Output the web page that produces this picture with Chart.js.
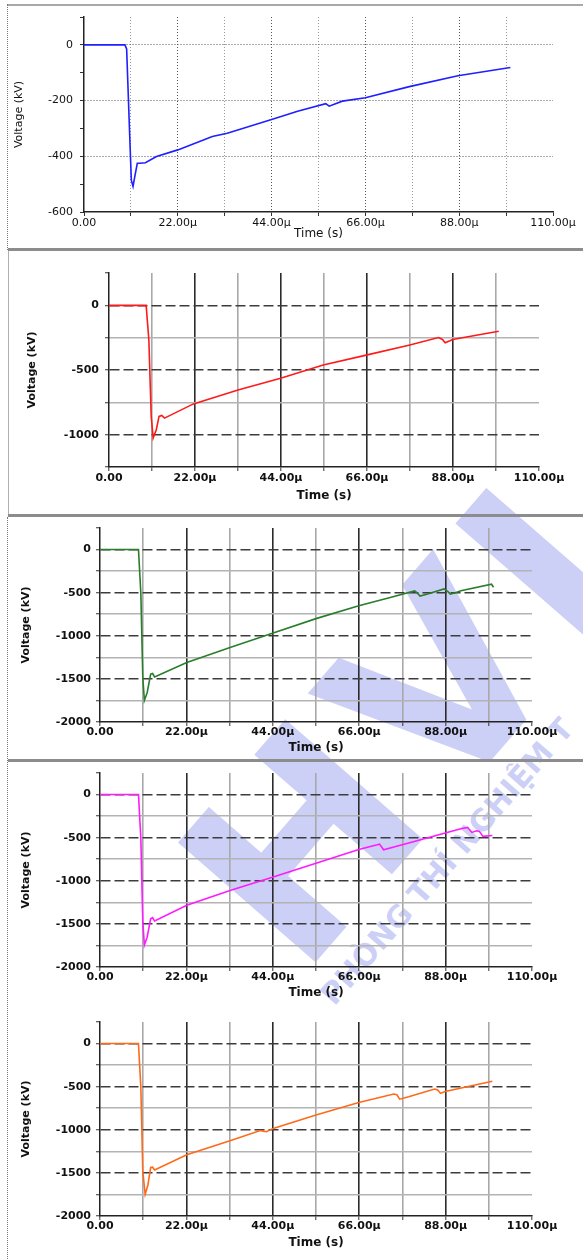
<!DOCTYPE html>
<html>
<head>
<meta charset="utf-8">
<script src="https://cdn.jsdelivr.net/npm/chart.js@4/dist/chart.umd.min.js"></script>
<style>
html,body{margin:0;padding:0;background:#fff;}
body{position:relative;width:583px;height:1259px;overflow:hidden;}
.panel{position:absolute;left:0;width:583px;z-index:2;}
.panel canvas{position:absolute;left:0;top:0;}
.line{position:absolute;z-index:3;}
.wm{position:absolute;z-index:1;color:rgba(120,128,232,0.38);font-family:"DejaVu Sans",sans-serif;font-weight:bold;white-space:nowrap;transform-origin:0 100%;line-height:1;}
</style>
</head>
<body>
<div class="wm" style="left:330px;top:755px;font-size:250px;letter-spacing:10px;transform:rotate(-49deg);">HVL</div>
<div class="wm" style="left:338px;top:980px;font-size:30px;transform:rotate(-49deg);">PHÒNG THÍ NGHIỆM T</div>

<div class="line" style="left:8px;top:4px;width:575px;height:2px;background:#a8a8a8"></div>
<div class="line" style="left:7px;top:4px;width:0;height:246px;border-left:1px dotted #777"></div>
<div class="line" style="left:8px;top:248px;width:575px;height:3px;background:#8c8c8c"></div>
<div class="line" style="left:8px;top:251px;width:1px;height:264px;background:#b0b0b0"></div>
<div class="line" style="left:8px;top:514px;width:575px;height:3px;background:#8c8c8c"></div>
<div class="line" style="left:7px;top:517px;width:0;height:742px;border-left:1px dotted #777"></div>
<div class="line" style="left:8px;top:759px;width:575px;height:3px;background:#8c8c8c"></div>

<script>
// ---- data (time in microseconds, voltage in kV) ----
const xTickLabels = ['0.00', '22.00µ', '44.00µ', '66.00µ', '88.00µ', '110.00µ'];
const xTitle = 'Time (s)';
const yTitle = 'Voltage (kV)';

const t1 = [0, 9.6, 10.0, 10.7, 11.1, 11.5, 11.9, 12.5, 13.1, 14.4, 17, 22, 30.1, 33.6, 44, 50.1, 56.7, 57.5, 60.6, 66, 76.3, 87.7, 100];
const v1 = [0, 0, -15, -317, -486, -508, -474, -425, -425, -423, -401, -377, -329, -317, -268, -238, -211, -220, -202, -190, -150, -111, -81];

const t2 = [0, 9.5, 10.2, 10.8, 11.3, 12.1, 12.8, 13.5, 14.2, 21.6, 33, 43.9, 54.8, 65.8, 76.7, 84.3, 85.3, 86, 87.2, 87.9, 99.7];
const v2 = [0, 0, -269, -859, -1026, -962, -859, -851, -872, -762, -654, -564, -462, -385, -308, -249, -264, -290, -274, -264, -200];

const t3 = [0, 9.8, 10.4, 10.9, 11.3, 12.0, 12.9, 13.4, 13.9, 22.1, 33.3, 44.1, 55, 65.9, 73.9, 80.1, 80.7, 81.5, 83.4, 87.6, 88.6, 89.2, 90.5, 91.9, 99.7, 100.2];
const v3 = [0, 0, -508, -1484, -1750, -1660, -1445, -1438, -1477, -1309, -1133, -969, -801, -652, -555, -480, -500, -539, -516, -457, -488, -516, -500, -477, -402, -437];

const t4 = [0, 9.8, 10.4, 10.9, 11.3, 12.0, 12.9, 13.4, 13.9, 22.1, 33.3, 44.1, 55, 65.9, 70.6, 71.2, 72.2, 78.6, 87.9, 91.9, 93.6, 94.7, 95.9, 96.6, 97.5, 99.9];
const v4 = [0, 0, -508, -1480, -1745, -1655, -1440, -1428, -1467, -1285, -1110, -955, -797, -638, -583, -575, -641, -563, -447, -396, -381, -439, -420, -427, -485, -474];

const t5 = [0, 9.8, 10.4, 10.9, 11.5, 12.2, 12.9, 13.4, 13.9, 22.1, 33.3, 40.8, 41.5, 42.4, 44.1, 55, 65.9, 74.8, 75.6, 76.3, 78.6, 85.2, 86, 86.7, 87.9, 99.9];
const v5 = [0, 0, -508, -1484, -1750, -1640, -1437, -1434, -1465, -1289, -1125, -1008, -1016, -1023, -984, -828, -684, -586, -594, -645, -617, -527, -539, -578, -555, -437];

const yRanges = [[-600, 100], [-1250, 250], [-2000, 250], [-2000, 250], [-2000, 250]];
const yMajorSteps = [200, 500, 500, 500, 500];
const yMinorSteps = [100, 250, 250, 250, 250];

// ---- layout / styles ----
const panels = [
  {t: t1, v: v1, color: '#1f1fff', top: 0,    h: 250, left: 84,  right: 553, ptop: 17, pbot: 212, style: 'dotted', yTitlePad: 13, xTitlePad: 9,  yTickPad: 7, xTickPad: 1},
  {t: t2, v: v2, color: '#ff1a1a', top: 250,  h: 262, left: 109, right: 539, ptop: 23, pbot: 217, style: 'grid', yTitlePad: 26, xTitlePad: 9,  yTickPad: 6, xTickPad: 1},
  {t: t3, v: v3, color: '#2a7d2a', top: 512,  h: 248, left: 100, right: 532, ptop: 16, pbot: 210, style: 'grid', yTitlePad: 20, xTitlePad: 5,  yTickPad: 5, xTickPad: 0},
  {t: t4, v: v4, color: '#ff1aff', top: 760,  h: 245, left: 100, right: 532, ptop: 13, pbot: 207, style: 'grid', yTitlePad: 20, xTitlePad: 5,  yTickPad: 5, xTickPad: 0},
  {t: t5, v: v5, color: '#ff6a1a', top: 1005, h: 254, left: 100, right: 532, ptop: 17, pbot: 211, style: 'grid', yTitlePad: 20, xTitlePad: 9,  yTickPad: 5, xTickPad: 0}
];

Chart.defaults.font.family = '"DejaVu Sans", "Liberation Sans", sans-serif';

function isMult(v, m) { return Math.abs(v / m - Math.round(v / m)) < 1e-9; }

panels.forEach((p, idx) => {
  const wrap = document.createElement('div');
  wrap.className = 'panel';
  wrap.style.top = p.top + 'px';
  wrap.style.height = p.h + 'px';
  const cv = document.createElement('canvas');
  cv.width = 583; cv.height = p.h;
  wrap.appendChild(cv);
  document.body.appendChild(wrap);

  const [yMin, yMax] = yRanges[idx];
  const yMajor = yMajorSteps[idx], yMinor = yMinorSteps[idx];
  const dotted = p.style === 'dotted';
  const bold = dotted ? 'normal' : 'bold';
  const tickFont = {size: 11, weight: bold, family: '"DejaVu Sans", sans-serif'};
  const titleFont = {size: 12, weight: bold, family: '"DejaVu Sans", sans-serif'};

  const scales = {
    x: {
      type: 'linear', min: 0, max: 110,
      afterFit: s => { s.height = p.h - p.pbot; },
      ticks: {
        stepSize: 11, autoSkip: false, maxRotation: 0, padding: p.xTickPad,
        color: '#111', font: tickFont,
        callback: v => isMult(v, 22) ? xTickLabels[Math.round(v / 22)] : ''
      },
      grid: {
        color: c => {
          const v = c.tick ? c.tick.value : 0;
          if (v <= 0 || v >= 110) return 'rgba(0,0,0,0)';
          if (dotted) return isMult(v, 22) ? '#555' : '#9a9a9a';
          return isMult(v, 22) ? '#2b2b2b' : '#a8a8a8';
        },
        lineWidth: dotted ? 1 : 1.6,
        tickColor: '#333', tickLength: 4, tickWidth: 1
      },
      border: {display: true, color: '#222', width: 1.5, dash: dotted ? [1, 2] : []},
      title: {display: true, text: xTitle, color: '#111', font: titleFont, padding: {top: 0, bottom: p.xTitlePad}}
    },
    y: {
      type: 'linear', min: yMin, max: yMax,
      afterFit: s => { s.width = p.left; },
      ticks: {
        stepSize: yMinor, autoSkip: false, padding: p.yTickPad,
        color: '#111', font: tickFont,
        callback: v => isMult(v, yMajor) ? String(v) : ''
      },
      grid: {
        color: c => {
          const v = c.tick ? c.tick.value : 0;
          if (v <= yMin || v >= yMax) return 'rgba(0,0,0,0)';
          if (!isMult(v, yMajor)) return 'rgba(0,0,0,0)';
          return dotted ? '#555' : '#3c3c3c';
        },
        lineWidth: dotted ? 1 : 1.5,
        tickColor: '#333', tickLength: 4, tickWidth: 1
      },
      border: {display: true, color: '#222', width: 1.5, dash: dotted ? [1, 2] : [10, 4]},
      title: {display: true, text: yTitle, color: '#111', font: {size: 11, weight: bold, family: '"DejaVu Sans", sans-serif'}, padding: {top: p.yTitlePad, bottom: 0}}
    }
  };
  if (!dotted) {
    scales.yMinor = {
      type: 'linear', position: 'left', min: yMin, max: yMax,
      afterFit: s => { s.width = 0; },
      ticks: {stepSize: yMinor, display: false, autoSkip: false},
      grid: {
        drawTicks: false,
        color: c => {
          const v = c.tick ? c.tick.value : 0;
          if (v <= yMin || v >= yMax) return 'rgba(0,0,0,0)';
          return isMult(v, yMajor) ? 'rgba(0,0,0,0)' : '#b3b3b3';
        },
        lineWidth: 1.5
      },
      border: {display: false}
    };
  }

  new Chart(cv, {
    type: 'line',
    data: {
      datasets: [{
        data: p.t.map((t, i) => ({x: t, y: p.v[i]})),
        borderColor: p.color, borderWidth: 1.6, pointRadius: 0, tension: 0, fill: false
      }]
    },
    options: {
      responsive: false, animation: false, devicePixelRatio: 1,
      layout: {padding: {top: p.ptop, right: 583 - p.right, left: 0, bottom: 0}},
      plugins: {legend: {display: false}, tooltip: {enabled: false}},
      scales: scales
    }
  });
});
</script>
</body>
</html>
